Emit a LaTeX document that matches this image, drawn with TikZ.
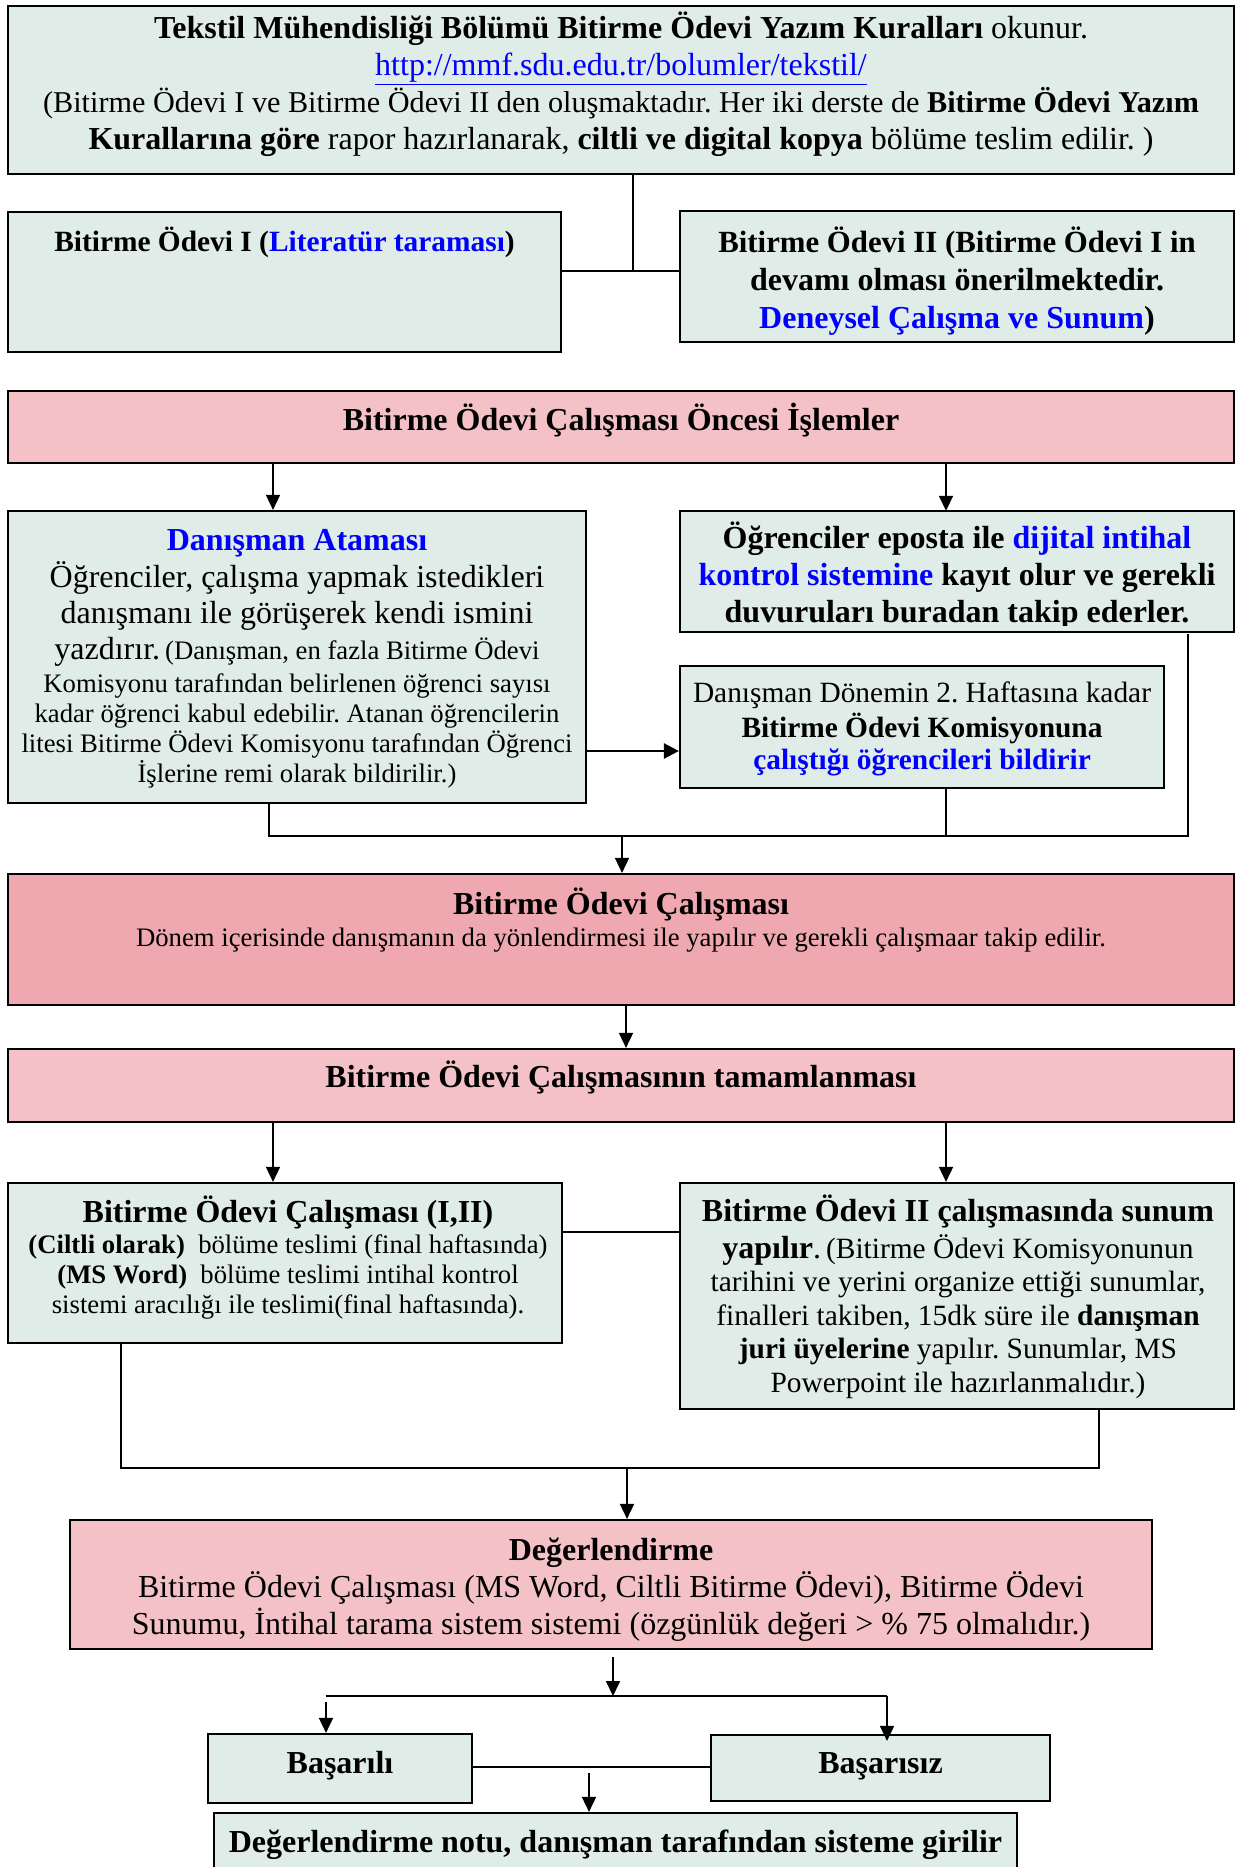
\documentclass[tikz,border=0pt]{standalone}
\usepackage{fontspec}
\setmainfont{Liberation Serif}
\usetikzlibrary{arrows.meta}
\frenchspacing
\definecolor{boxteal}{RGB}{223,236,232}
\definecolor{boxpink}{RGB}{244,194,198}
\definecolor{boxrose}{RGB}{239,168,175}
\definecolor{linkblue}{RGB}{0,0,255}
\newcommand{\szL}{\fontsize{32}{37}\selectfont}
\newcommand{\szM}{\fontsize{29.4}{34}\selectfont}
\newcommand{\szS}{\fontsize{26.7}{31}\selectfont}
\newcommand{\hl}[1]{\textcolor{linkblue}{#1}}
\tikzset{
  frame/.style={draw=black, line width=2.2pt, inner sep=0pt},
  tealbox/.style={frame, fill=boxteal},
  pinkbox/.style={frame, fill=boxpink},
  rosebox/.style={frame, fill=boxrose},
  txt/.style={anchor=base, inner sep=0pt, text=black},
  conn/.style={line width=1.7pt},
  arr/.style={conn, -{Triangle[length=15pt,width=14pt]}},
  arrthick/.style={line width=2.5pt, -{Triangle[length=15pt,width=15pt]}},
}
\begin{document}
\begin{tikzpicture}[x=1pt,y=-1pt]
\useasboundingbox (0,0) rectangle (1237,1867);

% ---------- header and the two courses ----------
\node[tealbox, minimum width=1226pt, minimum height=168pt] (top) at (621,90) {};
\node[txt] (top1) at (621,39) {\szL\textbf{Tekstil Mühendisliği Bölümü Bitirme Ödevi Yazım Kuralları} okunur.};
\node[txt] (top2) at (621,76) {\szL\textcolor{linkblue}{\underline{http://mmf.sdu.edu.tr/bolumler/tekstil/}}};
\node[txt] (top3) at (621,113) {\fontsize{30.2}{37}\selectfont(Bitirme Ödevi I ve Bitirme Ödevi II den oluşmaktadır. Her iki derste de \textbf{Bitirme Ödevi Yazım}};
\node[txt] (top4) at (621,150) {\szL\textbf{Kurallarına göre} rapor hazırlanarak, \textbf{ciltli ve digital kopya} bölüme teslim edilir. )};

\node[tealbox, minimum width=553pt, minimum height=140pt] (b1) at (284.5,282) {};
\node[txt] (b1t) at (284.5,252) {\fontsize{29.4}{37}\selectfont\textbf{Bitirme Ödevi I (\hl{Literatür taraması})}};

\node[tealbox, minimum width=554pt, minimum height=131pt] (b2) at (957,276.5) {};
\node[txt] (b2a) at (957,253) {\fontsize{30.8}{37}\selectfont\textbf{Bitirme Ödevi II (Bitirme Ödevi I in}};
\node[txt] (b2b) at (957,291) {\szL\textbf{devamı olması önerilmektedir.}};
\node[txt] (b2c) at (957,328) {\szL\textbf{\hl{Deneysel Çalışma ve Sunum})}};

\coordinate (j1) at (633,271);
\draw[conn] (top.south -| j1) -- (j1);
\draw[conn] (j1 -| b1.east) -- (j1 -| b2.west);

% ---------- preparations ----------
\node[pinkbox, minimum width=1226pt, minimum height=72pt] (pre) at (621,427) {};
\node[txt] (pret) at (621,430) {\szL\textbf{Bitirme Ödevi Çalışması Öncesi İşlemler}};

\node[tealbox, minimum width=578pt, minimum height=292pt] (dan) at (297,657) {};
\node[txt] (dan1) at (297,550) {\szL\textbf{\hl{Danışman Ataması}}};
\node[txt] (dan2) at (297,587) {\szL Öğrenciler, çalışma yapmak istedikleri};
\node[txt] (dan3) at (297,623) {\szL danışmanı ile görüşerek kendi ismini};
\node[txt] (dan4) at (297,659) {{\szL yazdırır.}\ \ {\szS(Danışman, en fazla Bitirme Ödevi}};
\node[txt] (dan5) at (297,692) {\szS Komisyonu tarafından belirlenen öğrenci sayısı};
\node[txt] (dan6) at (297,722) {\szS kadar öğrenci kabul edebilir. Atanan öğrencilerin};
\node[txt] (dan7) at (297,752) {\szS litesi Bitirme Ödevi Komisyonu tarafından Öğrenci};
\node[txt] (dan8) at (297,782) {\szS İşlerine remi olarak bildirilir.)};

% the last line of this box runs into its lower edge and is cut there
\node[fill=boxteal, inner sep=0pt, minimum width=554pt, minimum height=121pt] (ogr) at (957,571.5) {};
\begin{scope}
\clip (ogr.north west) rectangle (ogr.east |- 0,625);
\node[txt] (ogr1) at (957,548) {\szL\textbf{Öğrenciler eposta ile \hl{dijital intihal}}};
\node[txt] (ogr2) at (957,585) {\szL\textbf{\hl{kontrol sistemine} kayıt olur ve gerekli}};
\node[txt] (ogr3) at (957,622) {\szL\textbf{duvuruları buradan takip ederler.}};
\end{scope}
\draw[line width=2.2pt] (ogr.south west) rectangle (ogr.north east);

\node[tealbox, minimum width=484pt, minimum height=122pt] (dd) at (922,727) {};
\node[txt] (dd1) at (922,702) {\szM Danışman Dönemin 2. Haftasına kadar};
\node[txt] (dd2) at (922,737) {\szM\textbf{Bitirme Ödevi Komisyonuna}};
\node[txt] (dd3) at (922,769) {\szM\textbf{\hl{çalıştığı öğrencileri bildirir}}};

\coordinate (pa) at (273,0);
\coordinate (pb) at (946,0);
\draw[arr] (pre.south -| pa) -- (dan.north -| pa);
\draw[arr] (pre.south -| pb) -- (ogr.north -| pb);
\coordinate (ya) at (0,751);
\draw[arrthick] (dan.east |- ya) -- (dd.west |- ya);

% merge towards the study phase
\coordinate (m1) at (269,836);
\coordinate (m2) at (1188,836);
\coordinate (m3) at (622,836);
\draw[conn] (dan.south -| m1) -- (m1) -- (m2) -- ([yshift=-2pt]ogr.south -| m2);
\draw[conn] (dd.south -| pb) -- (m2 -| pb);

% ---------- study phase ----------
\node[rosebox, minimum width=1226pt, minimum height=131pt] (calis) at (621,939.5) {};
\node[txt] (cal1) at (621,914) {\szL\textbf{Bitirme Ödevi Çalışması}};
\node[txt] (cal2) at (621,946) {\szS Dönem içerisinde danışmanın da yönlendirmesi ile yapılır ve gerekli çalışmaar takip edilir.};
\draw[arr] (m3) -- (calis.north -| m3);

\node[pinkbox, minimum width=1226pt, minimum height=73pt] (tam) at (621,1085.5) {};
\node[txt] (tamt) at (621,1087) {\szL\textbf{Bitirme Ödevi Çalışmasının tamamlanması}};
\coordinate (pc) at (626,0);
\draw[arr] (calis.south -| pc) -- (tam.north -| pc);

\node[tealbox, minimum width=554pt, minimum height=160pt] (c12) at (285,1263) {};
\node[txt] (c12a) at (288,1222) {\szL\textbf{Bitirme Ödevi Çalışması (I,II)}};
\node[txt] (c12b) at (288,1253) {\szS\textbf{(Ciltli olarak)}\ \ bölüme teslimi (final haftasında)};
\node[txt] (c12c) at (288,1283) {\szS\textbf{(MS Word)}\ \ bölüme teslimi intihal kontrol};
\node[txt] (c12d) at (288,1313) {\szS sistemi aracılığı ile teslimi(final haftasında).};

\node[tealbox, minimum width=554pt, minimum height=226pt] (sun) at (957,1296) {};
\node[txt] (sun1) at (958,1221) {\szL\textbf{Bitirme Ödevi II çalışmasında sunum}};
\node[txt] (sun2) at (958,1258) {{\szL\textbf{yapılır}.}\ \ {\szM(Bitirme Ödevi Komisyonunun}};
\node[txt] (sun3) at (958,1291) {\szM tarihini ve yerini organize ettiği sunumlar,};
\node[txt] (sun4) at (958,1325) {\szM finalleri takiben, 15dk süre ile \textbf{danışman}};
\node[txt] (sun5) at (958,1358) {\szM\textbf{juri üyelerine} yapılır. Sunumlar, MS};
\node[txt] (sun6) at (958,1392) {\szM Powerpoint ile hazırlanmalıdır.)};

\draw[arr] (tam.south -| pa) -- (c12.north -| pa);
\draw[arr] (tam.south -| pb) -- (sun.north -| pb);
\coordinate (yb) at (0,1232);
\draw[conn] (c12.east |- yb) -- (sun.west |- yb);

% merge towards the evaluation
\coordinate (n1) at (121,1468);
\coordinate (n2) at (1099,1468);
\coordinate (n3) at (627,1468);
\draw[conn] (c12.south -| n1) -- (n1) -- (n2) -- (sun.south -| n2);

% ---------- evaluation ----------
\node[pinkbox, minimum width=1082pt, minimum height=129pt] (deg) at (611,1584.5) {};
\node[txt] (deg1) at (611,1560) {\szL\textbf{Değerlendirme}};
\node[txt] (deg2) at (611,1597) {\szL Bitirme Ödevi Çalışması (MS Word, Ciltli Bitirme Ödevi), Bitirme Ödevi};
\node[txt] (deg3) at (611,1634) {\szL Sunumu, İntihal tarama sistem sistemi (özgünlük değeri > \% 75 olmalıdır.)};
\draw[arr] (n3) -- (deg.north -| n3);

\node[tealbox, minimum width=264pt, minimum height=69pt] (bas) at (340,1768.5) {};
\node[txt] (bast) at (340,1773) {\szL\textbf{Başarılı}};
\node[tealbox, minimum width=339pt, minimum height=66pt] (basz) at (880.5,1768) {};
\node[txt] (baszt) at (880.5,1773) {\szL\textbf{Başarısız}};
\node[tealbox, minimum width=803pt, minimum height=67pt] (not) at (615.5,1846.5) {};
\node[txt] (nott) at (615.5,1852) {\szL\textbf{Değerlendirme notu, danışman tarafından sisteme girilir}};

\coordinate (s0) at (613,1657);
\coordinate (s1) at (613,1696);
\coordinate (sl) at (326,1696);
\coordinate (sr) at (887,1696);
\coordinate (sl2) at (326,1702);
\draw[arr] (s0) -- (s1);
\draw[conn] (sl) -- (sr);
\draw[arr] (sl2) -- (bas.north -| sl2);
\draw[arr] (sr) -- ([yshift=-7pt]basz.north -| sr);
\coordinate (yc) at (0,1767);
\draw[conn] (bas.east |- yc) -- (basz.west |- yc);
\coordinate (q0) at (589,1773);
\draw[arr] (q0) -- (not.north -| q0);
\end{tikzpicture}
\end{document}
